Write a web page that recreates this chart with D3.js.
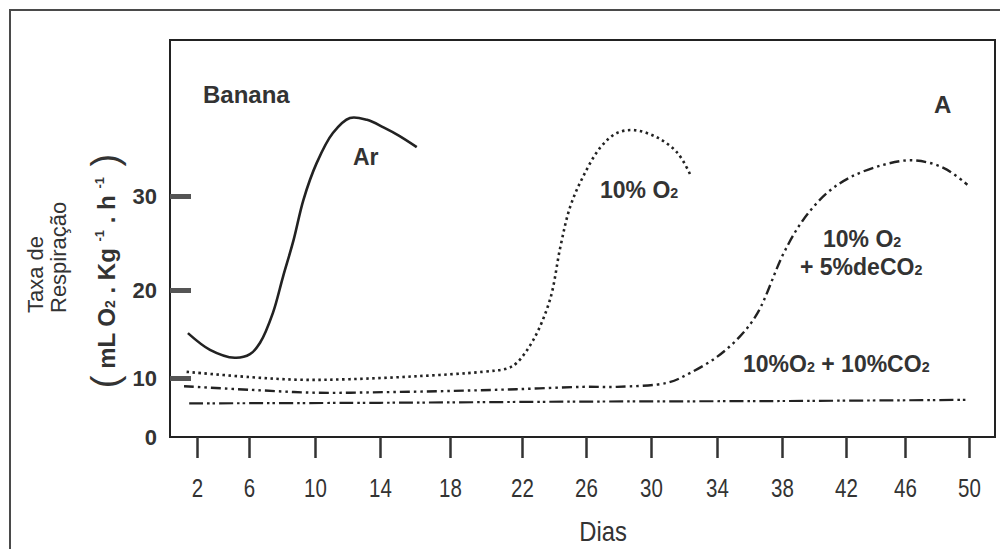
<!DOCTYPE html>
<html><head><meta charset="utf-8">
<script src="https://cdn.jsdelivr.net/npm/d3@7"></script>
<style>
body{margin:0;background:#fff;}
svg{display:block;}
text{font-family:"Liberation Sans",Arial,Helvetica,sans-serif;fill:#333;}
</style></head><body>
<svg id="c" width="1000" height="549"></svg>
<script>
// ---------- DATA ----------
const dayTicks  = [2, 6, 10, 14, 18, 22, 26, 30, 34, 38, 42, 46, 50];
const rateTicks = [0, 10, 20, 30];

// Ar (solid)
const arDays = [1.3, 3.0, 4.9, 6.06, 6.67, 7.45, 8.06, 8.7, 9.3, 10.1, 11.1, 12.15, 13.2, 14.2, 15.1, 16.1];
const arRate = [15.1, 13.2, 12.3, 12.7, 14.0, 17.4, 21.4, 25.3, 29.6, 33.5, 36.7, 38.3, 38.1, 37.3, 36.4, 35.2];

// 10% O2 (dotted)
const o2Days = [1.2, 6.06, 9.1, 12.15, 16.1, 19.8, 21.2, 21.7, 22.7, 23.75, 24.4, 25.0, 25.8, 26.9, 27.9, 29.0, 30.4, 31.6, 32.4];
const o2Rate = [10.7, 10.1, 9.7, 9.8, 10.2, 10.7, 11.1, 11.7, 14.3, 18.9, 24.6, 28.8, 32.0, 35.2, 36.7, 37.0, 36.2, 34.6, 32.2];

// 10% O2 + 5% CO2 (dash-dot)
const co2aDays = [1.0, 6.06, 10.1, 14.2, 18.0, 21.7, 25.8, 27.9, 31.0, 32.4, 34.0, 35.4, 36.5, 38.1, 39.3, 40.8, 42.3, 44.5, 46.5, 48.4, 49.9];
const co2aRate = [8.6, 8.0, 7.5, 7.6, 7.8, 8.1, 8.5, 8.5, 9.2, 10.6, 12.4, 14.7, 17.4, 23.9, 27.4, 30.3, 32.0, 33.3, 33.8, 33.0, 31.2];

// 10% O2 + 10% CO2 (long dash-dot-dot)
const co2bDays = [1.4, 14.0, 25.8, 38.0, 49.9];
const co2bRate = [5.7, 5.8, 6.0, 6.1, 6.3];

// ---------- LAYOUT ----------
const frame = {left: 170, top: 40, right: 995, bottom: 437};
const dayPx  = [197, 249, 315, 380, 450, 522, 586, 651, 717, 782, 846, 905, 969];
const ratePx = [437, 378, 290, 196];
const narrow = '"Liberation Sans Narrow","Arial Narrow","Liberation Sans",sans-serif';

const svg = d3.select("#c");

const x = d3.scaleLinear().domain(dayTicks).range(dayPx);
const y = d3.scaleLinear().domain(rateTicks).range(ratePx);

// outer border (image frame)
svg.append("rect").attr("x", 10).attr("y", 10).attr("width", 1100).attr("height", 700)
  .attr("fill", "none").attr("stroke", "#4a4a4a").attr("stroke-width", 2);

// plot frame
svg.append("rect").attr("x", frame.left).attr("y", frame.top)
  .attr("width", frame.right - frame.left).attr("height", frame.bottom - frame.top)
  .attr("fill", "none").attr("stroke", "#222").attr("stroke-width", 2);

// x axis
const gx = svg.append("g").attr("transform", `translate(0,${frame.bottom})`)
  .call(d3.axisBottom(x).tickValues(dayTicks).tickSize(21).tickPadding(21));
gx.select(".domain").remove();
gx.selectAll(".tick line").attr("stroke", "#333").attr("stroke-width", 2.5);
gx.selectAll(".tick text").attr("fill", "#333")
  .attr("transform", "scale(0.82,1)")
  .style("font-family", narrow)
  .style("font-size", "25px");

// y axis
const gy = svg.append("g").attr("transform", `translate(${frame.left},0)`)
  .call(d3.axisLeft(y).tickValues(rateTicks).tickSize(-21).tickPadding(13));
gy.select(".domain").remove();
gy.selectAll(".tick line").attr("stroke", "#555").attr("stroke-width", 5)
  .attr("opacity", d => d === 0 ? 0 : 1);
gy.selectAll(".tick text").attr("fill", "#333")
  .style("font-size", "22px").style("font-weight", "bold");

// lines
function series(dx, dy) { return dx.map((d, i) => [d, dy[i]]); }
const line = d3.line().x(d => x(d[0])).y(d => y(d[1])).curve(d3.curveCatmullRom.alpha(0.5));

const plot = svg.append("g").attr("fill", "none");
plot.append("path").datum(series(arDays, arRate)).attr("d", line)
  .attr("stroke", "#222").attr("stroke-width", 2.6);
plot.append("path").datum(series(o2Days, o2Rate)).attr("d", line)
  .attr("stroke", "#222").attr("stroke-width", 2.6).attr("stroke-dasharray", "2.5,3.5");
plot.append("path").datum(series(co2aDays, co2aRate)).attr("d", line)
  .attr("stroke", "#222").attr("stroke-width", 2.4).attr("stroke-dasharray", "10,4,2.5,4,2.5,4");
plot.append("path").datum(series(co2bDays, co2bRate)).attr("d", line)
  .attr("stroke", "#222").attr("stroke-width", 2.2).attr("stroke-dasharray", "14,4,2.5,3,2.5,4");

// annotations
function label(xp, yp, parts, size, weight) {
  const t = svg.append("text").attr("x", xp).attr("y", yp)
    .style("font-size", size + "px").style("font-weight", weight || "bold");
  parts.forEach(p => {
    if (typeof p === "string") t.append("tspan").text(p);
    else t.append("tspan").style("font-size", (size * 0.62) + "px").text(p.sub);
  });
  return t;
}
label(203, 103, ["Banana"], 24);
label(353, 165, ["Ar"], 23);
label(934, 113, ["A"], 24);
label(600, 198, ["10% O", {sub: "2"}], 23);
label(823, 247, ["10% O", {sub: "2"}], 23);
label(800, 275, ["+ 5%deCO", {sub: "2"}], 23);
label(743, 372, ["10%O", {sub: "2"}, " + 10%CO", {sub: "2"}], 23);

// x axis title
svg.append("text").attr("transform", "translate(603,541) scale(0.85,1)").attr("text-anchor", "middle")
  .style("font-family", narrow)
  .style("font-size", "28px").text("Dias");

// y axis title
svg.append("text").attr("transform", "translate(43,313) rotate(-90)")
  .style("font-size", "22px").text("Taxa de");
svg.append("text").attr("transform", "translate(66,313) rotate(-90)")
  .style("font-size", "22px").text("Respiração");

const yt = svg.append("text").attr("transform", "translate(115,271) rotate(-90)")
  .attr("text-anchor", "middle").style("font-size", "24px").style("font-weight", "bold");
yt.append("tspan").style("font-size", "38px").style("font-weight", "normal").attr("dy", "3").text("(");
yt.append("tspan").attr("dy", "-3").text(" mL O");
yt.append("tspan").style("font-size", "14px").text("2");
yt.append("tspan").text(" . Kg ");
yt.append("tspan").style("font-size", "13px").attr("dy", "-11").text("-1");
yt.append("tspan").attr("dy", "11").text(" . h ");
yt.append("tspan").style("font-size", "13px").attr("dy", "-11").text("-1");
yt.append("tspan").style("font-size", "38px").style("font-weight", "normal").attr("dy", "14").text(" )");
</script>
</body></html>
